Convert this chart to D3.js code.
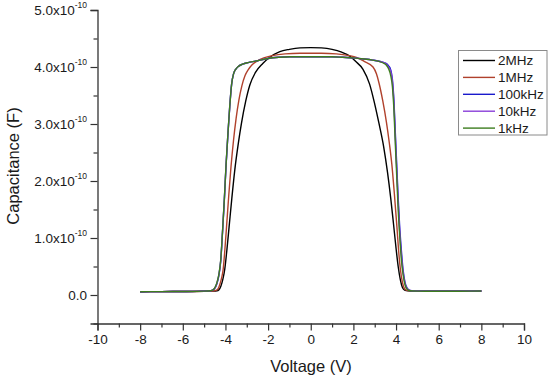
<!DOCTYPE html>
<html><head><meta charset="utf-8">
<script src="https://cdn.jsdelivr.net/npm/d3@7"></script>
<style>body{margin:0;background:#fff}svg{display:block}text{font-family:"Liberation Sans",Arial,sans-serif;fill:#1a1a1a}</style>
</head><body><svg id="c" width="550" height="378"></svg>
<script>
const seriesNames = ["2MHz","1MHz","100kHz","10kHz","1kHz"];
const seriesColors = ["#000000","#b0412c","#1a1acc","#8a3fd8","#3d7d1f"];
const xTicks = [-10,-8,-6,-4,-2,0,2,4,6,8,10];
const yTicks = [0,1e-10,2e-10,3e-10,4e-10,5e-10];

// Voltage (V) / Capacitance (x1e-10 F)
const v2MHz = [-8,-7,-6,-5,-4.6,-4.4,-4.31,-4.22,-4.12,-4.03,-3.93,-3.83,-3.7,-3.56,-3.4,-3.25,-3.05,-2.86,-2.6,-2.25,-1.92,-1.45,-1,-0.5,0,0.5,1,1.45,1.83,2.1,2.45,2.76,3,3.2,3.42,3.6,3.75,3.88,4,4.1,4.2,4.3,4.4,4.55,5,6,7,8];
const c2MHz = [0.058,0.06,0.062,0.066,0.07,0.075,0.09,0.15,0.28,0.46,0.8,1.19,1.7,2.2,2.65,3.01,3.4,3.68,3.9,4.06,4.17,4.27,4.31,4.335,4.34,4.335,4.31,4.26,4.19,4.1,3.96,3.7,3.35,3.01,2.6,2.15,1.7,1.25,0.82,0.5,0.27,0.13,0.085,0.072,0.068,0.066,0.067,0.07];

const v1MHz = [-8,-7,-6,-5,-4.6,-4.45,-4.36,-4.26,-4.18,-4.11,-4.03,-3.95,-3.85,-3.74,-3.62,-3.5,-3.37,-3.23,-3.08,-2.92,-2.75,-2.54,-2.2,-1.8,-1.2,-0.5,0,0.5,1.2,1.8,2.14,2.5,2.92,3.08,3.2,3.38,3.55,3.68,3.8,3.92,4.04,4.12,4.2,4.3,4.4,4.55,5,6,7,8];
const c1MHz = [0.058,0.06,0.062,0.066,0.07,0.08,0.1,0.19,0.3,0.44,0.78,1.19,1.72,2.25,2.72,3.1,3.42,3.67,3.85,3.96,4.04,4.1,4.16,4.2,4.23,4.24,4.24,4.24,4.23,4.2,4.17,4.1,4.0,3.88,3.72,3.4,3.03,2.68,2.3,1.78,1.2,0.78,0.46,0.22,0.11,0.076,0.068,0.066,0.067,0.07];

const v100kHz = [-8,-7,-6,-5,-4.7,-4.58,-4.48,-4.39,-4.3,-4.22,-4.14,-4.05,-3.97,-3.88,-3.8,-3.71,-3.62,-3.52,-3.4,-3.2,-2.9,-2.5,-2,-1.5,-1,0,1,1.5,2,2.5,2.9,3.2,3.4,3.55,3.65,3.75,3.83,3.9,3.96,4.03,4.1,4.17,4.25,4.33,4.42,4.52,4.65,5,6,7,8];
const c100kHz = [0.058,0.06,0.062,0.068,0.075,0.09,0.13,0.21,0.36,0.6,1.08,1.68,2.28,2.84,3.3,3.7,3.88,3.96,4.01,4.05,4.08,4.11,4.15,4.17,4.18,4.18,4.18,4.17,4.16,4.14,4.12,4.1,4.08,4.06,4.02,3.95,3.78,3.42,2.9,2.3,1.7,1.2,0.78,0.44,0.22,0.12,0.08,0.068,0.066,0.067,0.07];

const v10kHz = [-8,-7,-6,-5,-4.7,-4.58,-4.48,-4.39,-4.3,-4.22,-4.14,-4.05,-3.97,-3.88,-3.8,-3.71,-3.62,-3.52,-3.4,-3.2,-2.9,-2.5,-2,-1.5,-1,0,1,1.5,2,2.5,2.9,3.2,3.4,3.55,3.65,3.75,3.83,3.9,3.96,4.03,4.1,4.17,4.25,4.33,4.42,4.52,4.65,5,6,7,8];
const c10kHz = [0.058,0.06,0.062,0.068,0.075,0.09,0.13,0.22,0.37,0.61,1.09,1.69,2.29,2.85,3.3,3.7,3.88,3.96,4.01,4.05,4.08,4.11,4.15,4.17,4.18,4.18,4.18,4.17,4.16,4.14,4.12,4.1,4.08,4.05,4.0,3.92,3.74,3.36,2.82,2.22,1.62,1.12,0.7,0.4,0.2,0.11,0.078,0.068,0.066,0.067,0.07];

const v1kHz = [-8,-7,-6,-5,-4.7,-4.58,-4.48,-4.39,-4.3,-4.22,-4.14,-4.05,-3.97,-3.88,-3.8,-3.71,-3.62,-3.52,-3.4,-3.2,-2.9,-2.5,-2,-1.5,-1,0,1,1.5,2,2.5,2.9,3.2,3.4,3.55,3.65,3.75,3.83,3.9,3.96,4.03,4.1,4.17,4.25,4.33,4.42,4.52,4.65,5,6,7,8];
const c1kHz = [0.058,0.06,0.062,0.068,0.075,0.09,0.14,0.23,0.38,0.62,1.1,1.7,2.3,2.85,3.3,3.7,3.88,3.96,4.01,4.05,4.08,4.11,4.15,4.17,4.18,4.18,4.18,4.17,4.16,4.14,4.12,4.1,4.07,4.03,3.97,3.85,3.65,3.25,2.7,2.1,1.5,1.05,0.62,0.36,0.18,0.1,0.075,0.068,0.066,0.067,0.07];

const allV = [v2MHz,v1MHz,v100kHz,v10kHz,v1kHz];
const allC = [c2MHz,c1MHz,c100kHz,c10kHz,c1kHz];

const svg = d3.select("#c");
const x = d3.scaleLinear().domain([-10,10]).range([97.5,524]);
const y = d3.scaleLinear().domain([-0.5e-10,5e-10]).range([323.5,10]);

// minor ticks
svg.append("g").attr("transform","translate(0,323.5)")
  .call(d3.axisBottom(x).tickValues(d3.range(-9,10,2)).tickSize(4).tickFormat(""))
  .call(g=>g.select(".domain").remove());
svg.append("g").attr("transform","translate(97.5,0)")
  .call(d3.axisLeft(y).tickValues([-0.5e-10,0.5e-10,1.5e-10,2.5e-10,3.5e-10,4.5e-10]).tickSize(4).tickFormat(""))
  .call(g=>g.select(".domain").remove());

const xa = svg.append("g").attr("transform","translate(0,323.5)")
  .call(d3.axisBottom(x).tickValues(xTicks).tickSize(7).tickPadding(4).tickFormat(d=>d));
xa.selectAll("text").attr("font-size",13.5).attr("fill","#1a1a1a").attr("font-family","Liberation Sans, Arial, sans-serif");

const ya = svg.append("g").attr("transform","translate(97.5,0)")
  .call(d3.axisLeft(y).tickValues(yTicks).tickSize(7).tickPadding(3).tickFormat(""));
ya.selectAll(".tick").each(function(d){
  const t = d3.select(this).append("text").attr("x",-10.5).attr("dy","0.32em")
    .attr("text-anchor","end").attr("font-size",13.5).attr("fill","#1a1a1a");
  if (d===0) { t.text("0.0"); }
  else {
    t.append("tspan").text((d/1e-10).toFixed(1)+"x10");
    t.append("tspan").attr("font-size",8.5).attr("dy","-0.75em").text("-10");
  }
});
svg.selectAll(".domain").attr("stroke","#333").attr("stroke-width",1.3);
svg.selectAll(".tick line").attr("stroke","#333").attr("stroke-width",1.2);

const line = d3.line().x(d=>x(d[0])).y(d=>y(d[1]*1e-10)).curve(d3.curveMonotoneX);
allV.forEach((vs,i)=>{
  svg.append("path").datum(vs.map((v,j)=>[v,allC[i][j]]))
    .attr("d",line).attr("fill","none").attr("stroke",seriesColors[i]).attr("stroke-width",1.4);
});

// legend
const lg = svg.append("g");
lg.append("rect").attr("x",458.5).attr("y",50.5).attr("width",88.5).attr("height",84.5)
  .attr("fill","#fff").attr("stroke","#8a8a8a").attr("stroke-width",1);
seriesNames.forEach((n,i)=>{
  const yy = 60.5 + i*16.9;
  lg.append("line").attr("x1",463).attr("x2",495).attr("y1",yy).attr("y2",yy)
    .attr("stroke",seriesColors[i]).attr("stroke-width",1.4);
  lg.append("text").attr("x",498).attr("y",yy).attr("dy","0.35em").attr("font-size",13.5).text(n);
});

svg.append("text").attr("x",311).attr("y",372).attr("text-anchor","middle").attr("font-size",16.5).text("Voltage (V)");
svg.append("text").attr("transform","translate(19,166) rotate(-90)").attr("text-anchor","middle").attr("font-size",16.5).text("Capacitance (F)");
</script></body></html>
